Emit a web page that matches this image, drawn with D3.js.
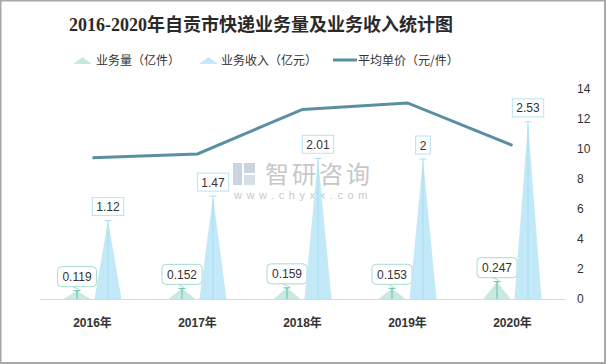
<!DOCTYPE html>
<html><head><meta charset="utf-8">
<script src="https://cdn.jsdelivr.net/npm/d3@7"></script>
<style>body{margin:0;background:#fff}svg{display:block}</style>
</head><body>
<script>
const years = ['2016年','2017年','2018年','2019年','2020年'];
const volume = [0.119,0.152,0.159,0.153,0.247];
const revenue = [1.12,1.47,2.01,2,2.53];
const unitPrice = [9.41,9.67,12.64,13.07,10.24];
const rightTicks = [0,2,4,6,8,10,12,14];
const legendNames = ['业务量（亿件）','业务收入（亿元）','平均单价（元/件）'];
const title = '2016-2020年自贡市快递业务量及业务收入统计图';

const W=606,H=364;
const svg=d3.select('body').append('svg').attr('width',W).attr('height',H);
svg.append('rect').attr('x',0.5).attr('y',0.5).attr('width',W-1.5).attr('height',H-1.5)
  .attr('fill','#fff').attr('stroke','#a8a8a8').attr('stroke-width',2);

const x=d3.scaleBand().domain(years).range([40,565]);
const yL=d3.scaleLinear().domain([0,3]).range([299,89]);
const yR=d3.scaleLinear().domain([0,14]).range([299,89]);
const sans='"Liberation Sans","Noto Sans CJK SC",sans-serif';

// title
svg.append('text').attr('x',261).attr('y',31).attr('text-anchor','middle')
  .attr('font-family','"Liberation Serif","Noto Sans CJK SC",serif').attr('font-weight','bold')
  .attr('font-size',18).attr('fill','#2a2a2a').text(title);

// watermark
const wm=svg.append('g').attr('opacity',0.55);
wm.append('rect').attr('x',233).attr('y',163).attr('width',9).attr('height',22).attr('fill','#9fb0c8');
wm.append('rect').attr('x',244).attr('y',163).attr('width',11).attr('height',10).attr('fill','#9fb0c8');
wm.append('rect').attr('x',244).attr('y',175).attr('width',11).attr('height',10).attr('fill','#b8c4d4');
wm.append('text').attr('x',265).attr('y',183).attr('font-family','"Noto Sans CJK SC",sans-serif')
  .attr('font-size',24).attr('letter-spacing',3).attr('fill','#9a9a9a').text('智研咨询');
wm.append('text').attr('x',234).attr('y',199).attr('font-family',sans)
  .attr('font-size',11).attr('letter-spacing',4.6).attr('fill','#9a9a9a').text('www.chyxx.com');

// legend
const lg=svg.append('g').attr('font-family','"Noto Sans CJK SC",sans-serif').attr('font-size',12).attr('fill','#333');
lg.append('path').attr('d','M73,64 L82.5,57 L92,64 Z').attr('fill','#c9e8e2');
lg.append('text').attr('x',96).attr('y',64.5).text(legendNames[0]);
lg.append('path').attr('d','M199,64 L208.5,57 L218,64 Z').attr('fill','#c3e9f8');
lg.append('text').attr('x',221).attr('y',64.5).text(legendNames[1]);
lg.append('line').attr('x1',333).attr('x2',357).attr('y1',60).attr('y2',60).attr('stroke','#5a8fa3').attr('stroke-width',3);
lg.append('text').attr('x',358).attr('y',64.5).text(legendNames[2]);

// bottom axis
const ax=svg.append('g').attr('transform','translate(0,299)').call(d3.axisBottom(x).tickSize(0).tickPadding(19));
ax.select('.domain').attr('stroke','#d9d9d9');
ax.selectAll('text').attr('font-family',sans).attr('font-weight','bold').attr('font-size',12).attr('fill','#333');

// right axis
const ar=svg.append('g').attr('transform','translate(565,0)').call(d3.axisRight(yR).tickValues(rightTicks).tickSize(0).tickPadding(12));
ar.select('.domain').remove();
ar.selectAll('text').attr('font-family',sans).attr('font-size',12).attr('fill','#333');

const off=15.5, bw=27;
function drawSeries(vals, dx, fill, pin, boxStroke, rounded){
  const g=svg.append('g');
  years.forEach((yr,i)=>{
    const cx=x(yr)+x.bandwidth()/2+dx;
    const top=yL(vals[i]), base=yL(0);
    g.append('path').attr('d',`M${cx-bw/2},${base} L${cx},${top} L${cx+bw/2},${base} Z`).attr('fill',fill);
    g.append('line').attr('x1',cx).attr('x2',cx).attr('y1',top).attr('y2',base).attr('stroke',pin).attr('stroke-width',1);
    g.append('line').attr('x1',cx-3.5).attr('x2',cx+3.5).attr('y1',top).attr('y2',top).attr('stroke',pin).attr('stroke-width',1);
    const t=g.append('text').attr('font-family',sans).attr('font-size',12).attr('fill','#333')
      .attr('text-anchor','middle').text(vals[i]);
    const tw=t.node().getComputedTextLength();
    if(rounded){
      const bh=20, by=top-4-bh, w=tw+10;
      g.insert('rect','text:last-child').attr('x',cx-w/2).attr('y',by).attr('width',w).attr('height',bh).attr('rx',4)
        .attr('fill','#fff').attr('stroke',boxStroke);
      g.append('path').attr('d',`M${cx-4},${by+bh} L${cx+2},${by+bh+3}`).attr('stroke',boxStroke).attr('fill','none');
      t.attr('x',cx).attr('y',by+14.5).raise();
    } else {
      const bh=18, by=top-5-bh, w=tw+8;
      g.insert('rect','text:last-child').attr('x',cx-w/2).attr('y',by).attr('width',w).attr('height',bh)
        .attr('fill','#fff').attr('stroke',boxStroke);
      t.attr('x',cx).attr('y',by+13.5).raise();
    }
  });
}
drawSeries(volume,-off,'#c9e8e2','#5fbcad','#a6dcd2',true);
drawSeries(revenue,off,'#c3e9f8','#a8ddf0','#b5e3f4',false);

// line
const line=d3.line().x((d,i)=>x(years[i])+x.bandwidth()/2).y(d=>yR(d));
svg.append('path').datum(unitPrice).attr('d',line).attr('fill','none').attr('stroke','#5a8fa3').attr('stroke-width',3);
</script>
</body></html>
